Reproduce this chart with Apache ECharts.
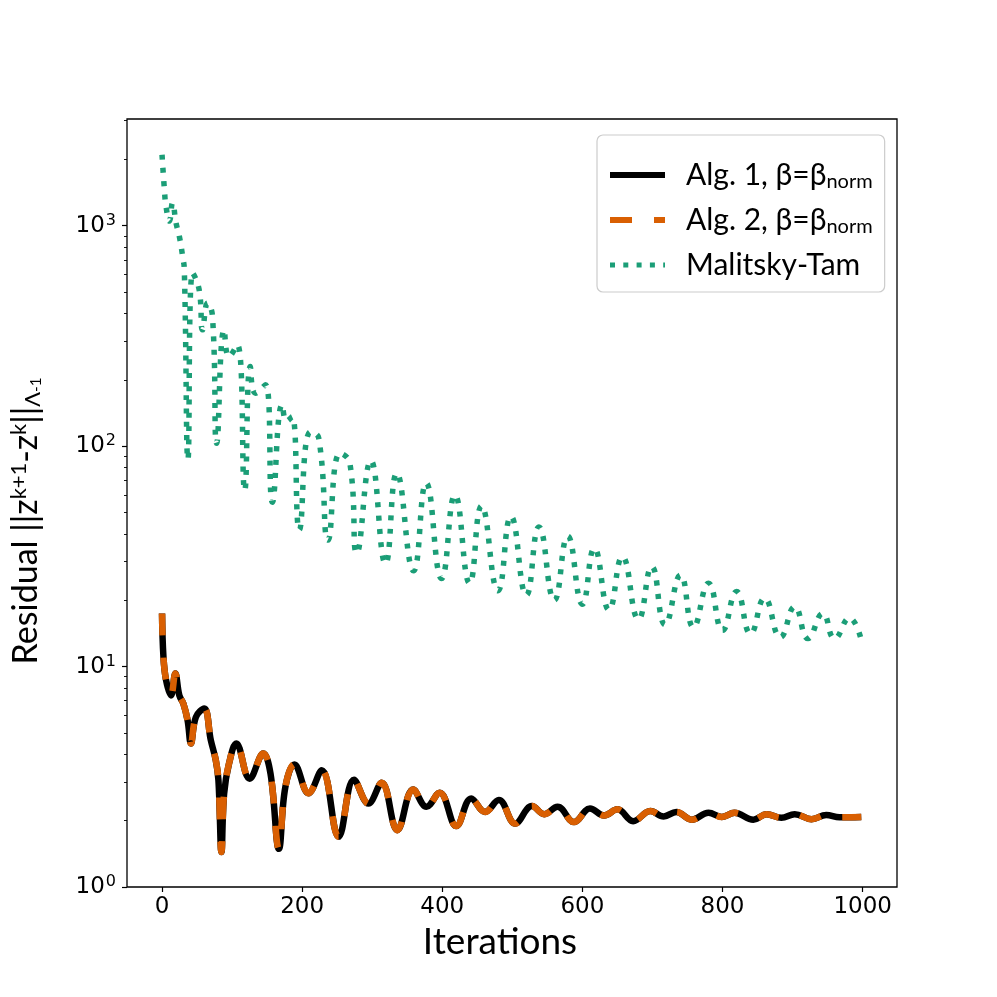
<!DOCTYPE html>
<html>
<head>
<meta charset="utf-8">
<script src="https://cdn.jsdelivr.net/npm/echarts@6/dist/echarts.min.js"></script>
<style>
  html, body { margin: 0; padding: 0; background: #fff; }
  #chart { width: 997px; height: 997px; }
</style>
</head>
<body>
<div id="chart"></div>
<script>
// tick positions
const xTicks = [0, 200, 400, 600, 800, 1000];
const yTicks = [1, 10, 100, 1000];
const yMinorTicks = [2, 3, 4, 5, 6, 7, 8, 9, 20, 30, 40, 50, 60, 70, 80, 90,
  200, 300, 400, 500, 600, 700, 800, 900, 2000, 3000];

// Alg. 1 and Alg. 2 give the same residual curve
const algResidual = [
  [0, 17.4], [2, 11.1], [5.7, 8.7], [12.8, 7.4], [19, 9.3], [24.7, 7.4], [30.4, 6.8],
  [36.5, 5.7], [41.2, 4.48], [48.3, 5.9], [60.2, 6.45], [69.6, 4.64], [76.7, 3.76],
  [80.5, 3.05], [84.8, 1.44], [88.6, 2.65], [95.7, 3.64], [106, 4.48], [125, 3.1],
  [144.5, 4.03], [154.8, 3.27], [166.8, 1.49], [176, 2.84], [189, 3.6], [209, 2.66],
  [228, 3.39], [252, 1.69], [274, 3.07], [294.6, 2.39], [313.5, 2.97], [335.8, 1.81],
  [358.5, 2.77], [377.4, 2.31], [396.3, 2.68], [420, 1.89], [441.3, 2.52], [461, 2.19],
  [480.7, 2.48], [504, 1.94], [528, 2.33], [545.5, 2.14], [564.5, 2.31], [588, 1.97],
  [610.8, 2.27], [631, 2.11], [650, 2.25], [672.4, 1.99], [697, 2.21], [716, 2.09],
  [734, 2.19], [756, 2.02], [780, 2.17], [799, 2.08], [817, 2.17], [844, 2.02],
  [863, 2.14], [884, 2.06], [903, 2.14], [927, 2.03], [948, 2.12], [967, 2.07], [998, 2.08]
];

// Malitsky-Tam residual: turning points
const mtResidual = [
  [0, 2100], [3.4, 1460], [5.7, 1225], [10.5, 1050], [15, 1270], [20, 1030], [24.7, 895],
  [29.4, 726], [31.8, 632], [37, 87], [43.6, 611], [53, 512], [57.8, 337], [65, 446],
  [72, 388], [78, 103], [88.6, 337], [95.7, 255], [107.5, 288], [118, 63], [126, 230],
  [133.5, 174], [147.7, 190], [157.5, 55.7], [171.4, 154], [178, 130], [185.7, 136],
  [196, 41.7], [211.6, 116], [223.6, 109], [237, 37.5], [254, 93], [268, 84],
  [278, 32.7], [298, 86], [319, 29.3], [335, 75.4], [359, 27.2], [377, 68],
  [399, 25.1], [418, 60], [439, 23.9], [456, 53.6], [479.5, 22.1], [498, 48],
  [520, 21.1], [538, 43], [560, 20], [579, 39], [600, 19.2], [617, 34.4],
  [638, 18.1], [657, 31.5], [680, 16.4], [699, 28.4], [718, 15.5], [740, 26],
  [758.5, 15.1], [780, 23.9], [800, 14.6], [820, 21.9], [840, 14.1], [860, 20.4],
  [882.6, 13.6], [903, 18.7], [922, 13.4], [943, 17.4], [960, 13.4], [981, 16.6],
  [998, 13.2]
];

const chart = echarts.init(document.getElementById('chart'), null, { renderer: 'canvas' });

const tickFont = 'DejaVu Sans';
const textFont = 'Lato';

var option = {
  animation: false,
  backgroundColor: '#fff',
  grid: {
    left: 124, top: 119, right: 100, bottom: 110,
    show: true, borderColor: '#000', borderWidth: 1.3, backgroundColor: 'transparent'
  },
  legend: {
    orient: 'vertical',
    left: 597, top: 135,
    padding: [25, 12, 12, 10],
    itemGap: 13,
    itemWidth: 55,
    itemHeight: 30,
    backgroundColor: '#fff',
    borderColor: '#cccccc',
    borderWidth: 1.2,
    borderRadius: 6,
    data: [
      { name: 'Alg. 1, β=β_norm', itemStyle: { opacity: 0 }, lineStyle: { width: 6, color: '#000000', type: 'solid' } },
      { name: 'Alg. 2, β=β_norm', itemStyle: { opacity: 0 }, lineStyle: { width: 6, color: '#d95f02', type: [22, 22] } },
      { name: 'Malitsky-Tam', itemStyle: { opacity: 0 }, lineStyle: { width: 5, color: '#1b9e77', type: [5, 8.3] } }
    ],
    formatter: function (name) {
      return name.replace('_norm', '{sub|norm}');
    },
    textStyle: {
      fontFamily: textFont, fontSize: 30, color: '#000',
      padding: [0, 0, 0, 16],
      rich: {
        sub: { fontFamily: textFont, fontSize: 20, color: '#000', verticalAlign: 'bottom', padding: [14, 0, 0, 0] }
      }
    }
  },
  xAxis: [{
    type: 'value',
    min: -50, max: 1049,
    splitLine: { show: false },
    axisLine: { show: false, onZero: false },
    axisTick: { show: true, length: 5, lineStyle: { color: '#000', width: 1.2 }, customValues: xTicks },
    axisLabel: {
      fontFamily: tickFont, fontSize: 23, color: '#000', margin: 9, customValues: xTicks,
      formatter: function (v) { return String(v); }
    },
    name: 'Iterations',
    nameLocation: 'middle',
    nameGap: 17,
    nameTextStyle: { fontFamily: textFont, fontSize: 37, color: '#000', padding: [0, 24, 0, 0] }
  }],
  yAxis: [{
    type: 'log',
    logBase: 10,
    min: 1, max: 3050,
    splitLine: { show: false },
    axisLine: { show: false, onZero: false },
    axisTick: { show: true, length: 5, lineStyle: { color: '#000', width: 1.2 }, customValues: yTicks },
    minorTick: { show: false },
    axisLabel: {
      margin: 11,
      customValues: yTicks,
      formatter: function (v) {
        return '{b|10}{s|' + Math.round(Math.log10(v)) + '}';
      },
      rich: {
        b: { fontFamily: tickFont, fontSize: 23, color: '#000' },
        s: { fontFamily: tickFont, fontSize: 16, color: '#000', verticalAlign: 'top', padding: [0, 0, 10, 1] }
      }
    },
    name: 'Residual ||z{sup|k+1}-z{sup|k}||{sub|Λ}{subsup|-1}',
    nameLocation: 'middle',
    nameRotate: 90,
    nameGap: 83,
    nameTextStyle: {
      fontFamily: textFont, fontSize: 34, color: '#000',
      padding: [0, 36, 0, 0],
      rich: {
        sup: { fontFamily: textFont, fontSize: 22, color: '#000', verticalAlign: 'top', padding: [0, 0, 14, 0] },
        sub: { fontFamily: textFont, fontSize: 22, color: '#000', verticalAlign: 'bottom', padding: [14, 0, 0, 0] },
        subsup: { fontFamily: textFont, fontSize: 15, color: '#000', verticalAlign: 'bottom', padding: [4, 0, 0, 0] }
      }
    }
  }, {
    type: 'log',
    logBase: 10,
    min: 1, max: 3050,
    position: 'left',
    splitLine: { show: false },
    axisLine: { show: false, onZero: false },
    axisLabel: { show: false, customValues: yMinorTicks },
    axisTick: { show: true, length: 3, lineStyle: { color: '#000', width: 0.9 }, customValues: yMinorTicks }
  }],
  series: [{
    name: 'Alg. 1, β=β_norm',
    type: 'line',
    smooth: 0.4,
    symbol: 'none',
    lineStyle: { color: '#000000', width: 6.5 },
    itemStyle: { color: '#000000' },
    data: algResidual,
    z: 2
  }, {
    name: 'Alg. 2, β=β_norm',
    type: 'line',
    smooth: 0.4,
    symbol: 'none',
    lineStyle: { color: '#d95f02', width: 6.5, type: [22, 22], cap: 'butt' },
    itemStyle: { color: '#d95f02' },
    data: algResidual,
    z: 3
  }, {
    name: 'Malitsky-Tam',
    type: 'line',
    smooth: 0.5,
    symbol: 'none',
    lineStyle: { color: '#1b9e77', width: 5.5, type: [5, 8.3], cap: 'butt' },
    itemStyle: { color: '#1b9e77' },
    data: mtResidual,
    z: 4
  }]
};

chart.setOption(option);
</script>
</body>
</html>
